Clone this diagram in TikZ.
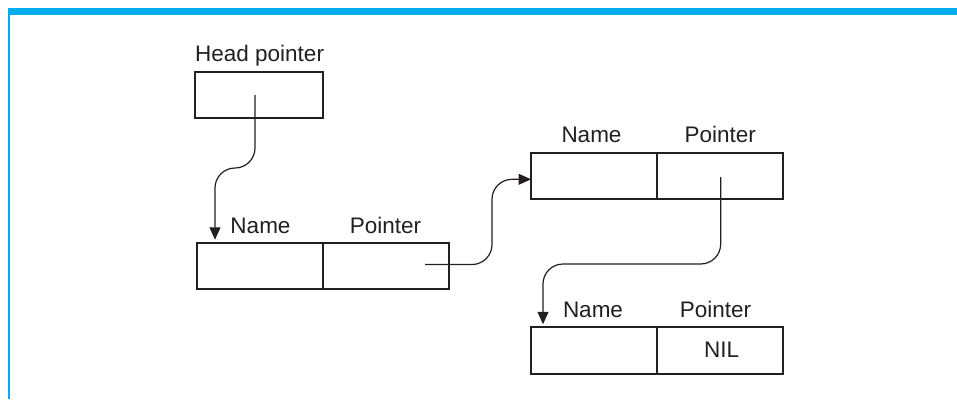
\documentclass[tikz,border=0pt]{standalone}
\usepackage{fontspec}
\setmainfont{Liberation Sans}
\usetikzlibrary{arrows.meta,calc}
\definecolor{barblue}{HTML}{00AEEF}
\definecolor{ink}{HTML}{231F20}
\begin{document}
\begin{tikzpicture}[x=1pt,y=-1pt,
  cell/.style={draw=ink,line width=1.6pt,minimum width=126pt,minimum height=46.5pt,inner sep=0pt,outer sep=0pt},
  lbl/.style={font=\fontsize{22.5}{27}\selectfont,text=ink,anchor=base,inner sep=0pt},
  link/.style={draw=ink,line width=1.2pt,rounded corners=20pt,-{Triangle[length=12.5pt,width=11pt]}}]
\useasboundingbox (0,0) rectangle (957,399);
% frame
\fill[barblue] (8.3,8.3) rectangle (957,15);
\fill[barblue] (8.3,15) rectangle (10,399);
% head pointer
\node[cell,minimum width=128pt] (head) at (259,95) {};
\node[lbl,anchor=base west] (headlbl) at (195,61.3) {Head pointer};
% node 1
\node[cell] (n1a) at (260,266) {};
\node[cell] (n1b) at (386,266) {};
\node[lbl] (n1nl) at (260.5,233.5) {Name};
\node[lbl] (n1pl) at (385.5,233.5) {Pointer};
% node 2
\node[cell] (n2a) at (594,176) {};
\node[cell] (n2b) at (720,176) {};
\node[lbl] (n2nl) at (591.5,142.3) {Name};
\node[lbl] (n2pl) at (720.3,142.3) {Pointer};
% node 3
\node[cell] (n3a) at (594,350.5) {};
\node[cell] (n3b) at (720,350.5) {};
\node[lbl] (n3nl) at (593,317.3) {Name};
\node[lbl] (n3pl) at (715.5,317.3) {Pointer};
\node[lbl] (nil) at (721.5,357.3) {NIL};
% connectors
\coordinate (hs) at (255,95);
\coordinate (c1s) at (425,264.5);
\coordinate (c2s) at (720.7,177);
\draw[link] (hs) -- (255,168) -- (215,168) -- ([xshift=-45pt,yshift=3pt]n1a.north);
\draw[link] (c1s) -- (492,264.5) -- (492,179.3) -- ([yshift=-3.3pt]n2a.west);
\draw[link] (c2s) -- (720.7,264) -- (543,264) -- ([xshift=-51pt,yshift=3pt]n3a.north);
\end{tikzpicture}
\end{document}
